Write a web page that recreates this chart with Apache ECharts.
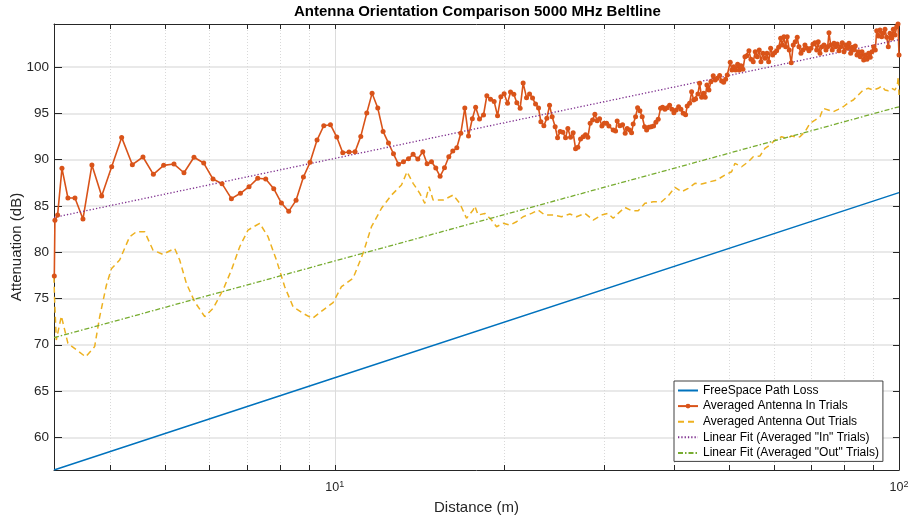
<!DOCTYPE html>
<html><head><meta charset="utf-8">
<script src="https://cdn.jsdelivr.net/npm/echarts@6/dist/echarts.min.js"></script>
<style>html,body{margin:0;padding:0;background:#fff}#c{width:910px;height:518px}</style>
</head><body><div id="c"></div>
<script>
// ---- axis ranges and ticks ----
const xMin = 3.18, xMax = 100, yMin = 56.47, yMax = 104.65;
const xMinorTicks = [4,5,6,7,8,9,10,20,30,40,50,60,70,80,90,100];
const xMajorTicks = [10, 100];
const xMajorBase = '10';
const xMajorExponents = ['1', '2'];
const yTicks = [60,65,70,75,80,85,90,95,100];

// ---- series data ----
const seriesNames = ['FreeSpace Path Loss','Averaged Antenna In Trials','Averaged Antenna Out Trials','Linear Fit (Averaged "In" Trials)','Linear Fit (Averaged "Out" Trials)'];

const fsDist = [3.18, 10, 100];
const fsAtten = [56.47, 66.43, 86.43];

const inFitDist = [3.18, 100];
const inFitAtten = [83.75, 102.95];

const outFitDist = [3.18, 100];
const outFitAtten = [70.76, 95.71];

const inDist = [3.184,3.192,3.227,3.285,3.366,3.464,3.579,3.712,3.863,4.024,4.191,4.378,4.572,4.770,4.975,5.189,5.405,5.630,5.858,6.085,6.312,6.559,6.805,7.048,7.303,7.545,7.796,8.044,8.288,8.539,8.800,9.041,9.303,9.561,9.826,
10.082,10.332,10.601,10.864,11.120,11.396,11.645,11.919,12.180,12.451,12.708,12.970,13.238,13.511,13.767,14.034,14.323,14.577,14.841,15.104,15.371,15.649,15.927,16.189,16.456,16.727,17.002,17.261,17.531,17.769,
18.054,18.351,18.600,18.883,19.163,19.431,19.694,19.961,20.240,20.489,20.767,21.023,21.308,21.571,21.872,22.142,22.415,22.691,22.971,23.188,23.473,23.762,24.026,24.282,24.582,24.824,25.088,25.366,25.647,25.889,26.176,26.455,26.716,26.968,27.267,27.558,27.829,28.092,28.357,28.636,28.906,29.179,29.467,29.745,30.025,30.321,30.607,
31.149,31.456,31.662,32.013,32.368,32.713,32.981,33.306,33.579,33.799,34.132,34.412,34.736,35.064,35.409,35.700,36.036,36.376,36.734,37.081,37.431,37.799,38.109,38.469,38.832,39.214,39.584,39.909,40.285,40.682,41.066,41.453,41.862,42.136,42.551,42.900,43.252,43.606,44.018,44.324,44.687,45.054,45.349,45.665,46.039,46.417,46.855,47.239,47.626,48.095,48.489,48.887,49.288,49.611,50.222,50.572,50.924,51.342,51.763,52.102,52.465,52.895,53.329,53.766,54.207,54.651,
55.165,55.617,56.073,56.533,56.927,57.394,57.865,58.339,58.745,59.227,59.713,60.203,60.697,61.195,61.695,62.099,62.528,62.963,63.374,63.895,64.419,64.947,65.480,66.017,66.481,67.026,67.576,68.130,68.689,69.252,69.819,70.392,70.969,71.463,71.932,72.432,73.026,73.625,74.229,74.746,75.143,75.666,76.162,76.692,77.226,77.733,78.274,78.819,79.335,79.888,80.444,80.972,81.536,82.103,82.540,83.115,83.659,84.242,84.829,85.385,85.980,86.578,87.146,87.752,88.363,88.943,89.563,90.186,90.778,91.298,91.896,92.536,93.180,93.791,94.445,95.102,95.725,96.393,97.064,97.700,98.380,99.066,99.594,100];
const inAtten = [77.42,83.44,84.01,89.06,85.85,85.85,83.58,89.41,86.07,89.23,92.40,89.45,90.28,88.41,89.38,89.52,88.58,90.25,89.63,87.90,87.40,85.78,86.36,87.07,87.98,87.90,86.86,85.31,84.41,85.60,88.12,89.71,92.11,93.66,93.77,
92.44,90.75,90.82,90.85,92.51,95.03,97.16,95.57,93.05,91.79,90.63,89.49,89.77,90.10,90.57,90.06,90.85,89.56,89.77,89.09,88.19,89.12,90.31,90.93,91.28,92.84,95.57,92.55,94.42,95.65,
94.38,94.82,96.90,96.51,96.29,94.74,96.79,97.12,96.08,97.30,97.05,96.15,95.54,98.27,96.69,97.08,96.65,96.00,95.57,94.09,93.66,94.46,95.86,94.63,93.55,92.36,93.05,92.95,92.36,93.37,92.41,92.90,91.18,91.33,92.22,92.47,92.69,92.41,93.92,94.27,94.89,94.20,94.42,93.63,93.92,93.92,93.63,
93.19,93.09,94.17,93.66,93.77,92.84,93.37,93.19,92.90,93.84,94.63,95.60,95.28,94.63,93.55,93.19,93.49,93.55,93.63,94.03,94.35,95.54,95.65,95.43,95.60,95.86,95.43,95.06,95.36,95.71,95.43,95.00,94.85,95.79,96.08,97.33,96.44,96.54,97.08,98.24,96.73,97.16,96.73,98.06,97.52,98.42,99.06,98.60,98.78,99.10,98.49,98.35,98.67,99.14,100.51,99.68,100.04,99.68,100.29,99.68,100.15,99.75,101.11,101.22,101.76,100.83,
100.57,101.65,101.11,101.84,100.57,101.48,100.94,101.48,100.57,102.02,101.30,101.55,101.76,102.13,103.10,102.38,103.27,102.19,103.27,101.84,100.46,102.38,102.73,103.21,102.19,101.48,101.84,102.38,102.02,101.76,102.02,102.45,102.62,101.84,102.73,101.48,102.19,102.38,101.84,102.19,103.71,102.38,101.84,102.56,102.19,102.48,101.76,102.19,102.62,101.65,102.38,102.02,102.56,101.48,102.13,101.84,102.27,101.30,101.65,101.11,101.65,100.76,101.30,100.83,101.48,101.05,101.65,102.19,101.84,103.92,103.35,104.00,103.27,103.64,104.07,103.21,102.19,103.64,103.10,104.07,103.46,104.35,104.65,101.30];

const outDist = [3.179,3.188,3.210,3.277,3.366,3.618,3.754,3.831,3.937,4.019,4.157,4.330,4.450,4.604,4.762,4.961,5.203,5.311,5.458,5.646,5.882,6.085,6.338,6.559,6.786,7.019,7.362,7.616,7.882,8.153,8.435,8.786,9.130,9.534,9.931,
10.277,10.776,11.225,11.616,12.100,12.605,13.130,13.433,13.767,14.148,14.440,14.696,14.938,15.560,16.209,16.658,17.120,17.588,17.710,17.951,18.448,18.960,19.351,19.879,20.430,20.997,21.570,22.323,22.932,23.568,24.381,25.231,26.102,26.826,27.750,28.707,29.708,30.519,
31.149,31.791,32.672,33.579,34.496,35.453,36.675,37.954,38.991,40.072,41.183,42.308,43.481,44.687,46.228,47.511,49.147,50.510,51.196,52.616,54.052,55.165,56.696,57.865,59.058,60.276,61.948,63.225,64.529,65.860,66.753,68.130,69.536,70.969,72.432,73.415,74.929,76.475,78.052,79.662,81.305,82.982,84.693,86.440,88.223,90.042,91.896,93.180,94.445,95.725,97.064,98.380,99.309,99.715,100];
const outAtten = [77.35,74.83,70.51,73.10,70.15,68.70,69.80,73.00,76.40,78.20,79.15,81.67,82.20,82.20,80.23,79.76,80.41,79.15,76.63,74.65,73.03,73.93,75.91,78.07,80.59,82.39,83.12,81.67,79.15,76.27,74.11,73.39,72.85,73.75,74.55,
76.27,77.18,79.88,82.75,84.74,86.17,87.25,88.69,87.44,86.36,85.28,87.07,85.63,85.63,86.17,85.28,83.66,84.55,84.99,84.01,84.19,83.47,82.75,83.12,82.93,83.29,83.83,84.19,84.55,84.01,84.01,83.83,84.12,83.83,84.19,83.47,84.01,84.19,
83.66,84.19,84.84,84.48,84.48,85.28,85.45,85.45,86.07,87.00,86.53,86.89,87.44,87.36,87.61,87.79,88.33,88.69,89.60,89.23,89.77,90.31,90.39,91.22,91.57,92.11,92.47,92.30,92.55,92.41,92.47,93.01,93.92,94.27,94.63,95.54,95.36,95.17,95.43,95.71,96.14,96.44,96.98,97.52,97.70,97.52,97.70,97.95,97.52,97.44,97.70,97.52,98.06,98.95,96.98];

const colors = ['#0072BD','#D95319','#EDB120','#7E2F8E','#77AC30'];
const FONT = "'Liberation Sans', Arial, Helvetica, sans-serif";
const AXIS = '#262626';

function pairs(xs, ys) { return xs.map((x, i) => [x, ys[i]]); }

const chart = echarts.init(document.getElementById('c'), null, {renderer: 'canvas'});

const xBase = {
  type: 'log', logBase: 10, min: xMin, max: xMax, gridIndex: 0
};
const richLabel = {
  b: {fontSize: 12.5, color: AXIS, fontFamily: FONT, lineHeight: 16},
  s: {fontSize: 9, color: AXIS, fontFamily: FONT, verticalAlign: 'top', lineHeight: 10}
};
const noMarker = {opacity: 0};

const option = {
  animation: false,
  backgroundColor: '#fff',
  title: {
    text: 'Antenna Orientation Comparison 5000 MHz Beltline',
    left: 294, top: 4,
    padding: 0,
    textStyle: {fontFamily: FONT, fontWeight: 'bold', fontSize: 15, color: '#000'}
  },
  grid: {left: 54, right: 11, top: 24, bottom: 48, containLabel: false, outerBoundsMode: 'none'},
  xAxis: [
    Object.assign({}, xBase, {
      position: 'bottom',
      name: 'Distance (m)', nameLocation: 'middle', nameGap: 30, nameMoveOverlap: false,
      nameTextStyle: {fontFamily: FONT, fontSize: 15, color: AXIS},
      axisLine: {show: true, lineStyle: {color: AXIS, width: 1}},
      axisTick: {show: true, inside: true, length: 5, customValues: xMinorTicks, lineStyle: {color: AXIS}},
      axisLabel: {
        show: true, margin: 10, customValues: xMajorTicks,
        formatter: (v) => {
          const i = xMajorTicks.findIndex(t => Math.abs(t - v) < 1e-6);
          return '{b|' + xMajorBase + '}{s|' + (i >= 0 ? xMajorExponents[i] : '') + '}';
        },
        rich: richLabel
      },
      splitLine: {show: true, lineStyle: {color: '#d9d9d9', width: 1, type: [1, 2]}}
    }),
    Object.assign({}, xBase, {
      position: 'top',
      axisLine: {show: true, lineStyle: {color: AXIS, width: 1}},
      axisTick: {show: true, inside: true, length: 5, customValues: xMinorTicks, lineStyle: {color: AXIS}},
      axisLabel: {show: false},
      splitLine: {show: false}
    }),
    Object.assign({}, xBase, {
      position: 'bottom',
      axisLine: {show: false},
      axisTick: {show: false, customValues: [10]},
      axisLabel: {show: false},
      splitLine: {show: true, lineStyle: {color: '#dcdcdc', width: 1}}
    })
  ],
  yAxis: [
    {
      type: 'value', min: yMin, max: yMax, position: 'left',
      name: 'Attenuation (dB)', nameLocation: 'middle', nameGap: 30, nameRotate: 90, nameMoveOverlap: false,
      nameTextStyle: {fontFamily: FONT, fontSize: 15, color: AXIS},
      axisLine: {show: true, lineStyle: {color: AXIS, width: 1}},
      axisTick: {show: true, inside: true, length: 8, customValues: yTicks, lineStyle: {color: AXIS}},
      axisLabel: {show: true, margin: 5, customValues: yTicks, fontFamily: FONT, fontSize: 13.5, color: AXIS},
      splitLine: {show: true, lineStyle: {color: '#e2e2e2', width: 1.5}}
    },
    {
      type: 'value', min: yMin, max: yMax, position: 'right',
      axisLine: {show: true, lineStyle: {color: AXIS, width: 1}},
      axisTick: {show: true, inside: true, length: 6, customValues: yTicks, lineStyle: {color: AXIS}},
      axisLabel: {show: false},
      splitLine: {show: false}
    }
  ],
  legend: {
    orient: 'vertical', left: 674, top: 381,
    padding: [2, 4, 1, 3],
    itemWidth: 20, itemHeight: 6, itemGap: 0.6,
    backgroundColor: '#fff', borderColor: '#404040', borderWidth: 1, borderRadius: 0,
    textStyle: {fontFamily: FONT, fontSize: 12, color: '#000', lineHeight: 15},
    data: [
      {name: seriesNames[0], itemStyle: noMarker},
      {name: seriesNames[1]},
      {name: seriesNames[2], itemStyle: noMarker},
      {name: seriesNames[3], itemStyle: noMarker},
      {name: seriesNames[4], itemStyle: noMarker}
    ]
  },
  series: [
    {
      name: seriesNames[0], type: 'line', data: pairs(fsDist, fsAtten),
      symbol: 'none', lineStyle: {color: colors[0], width: 1.5}, itemStyle: {color: colors[0]}, silent: true
    },
    {
      name: seriesNames[1], type: 'line', data: pairs(inDist, inAtten),
      symbol: 'circle', symbolSize: 5, showSymbol: true,
      lineStyle: {color: colors[1], width: 1.6}, itemStyle: {color: colors[1], borderWidth: 0}, silent: true
    },
    {
      name: seriesNames[2], type: 'line', data: pairs(outDist, outAtten),
      symbol: 'none', lineStyle: {color: colors[2], width: 1.5, type: [6, 4]}, itemStyle: {color: colors[2]}, silent: true
    },
    {
      name: seriesNames[3], type: 'line', data: pairs(inFitDist, inFitAtten),
      symbol: 'none', lineStyle: {color: colors[3], width: 1.3, type: [1.3, 2]}, itemStyle: {color: colors[3]}, silent: true
    },
    {
      name: seriesNames[4], type: 'line', data: pairs(outFitDist, outFitAtten),
      symbol: 'none', lineStyle: {color: colors[4], width: 1.3, type: [5, 2, 1.5, 2]}, itemStyle: {color: colors[4]}, silent: true
    }
  ]
};
chart.setOption(option);
</script>
</body></html>
